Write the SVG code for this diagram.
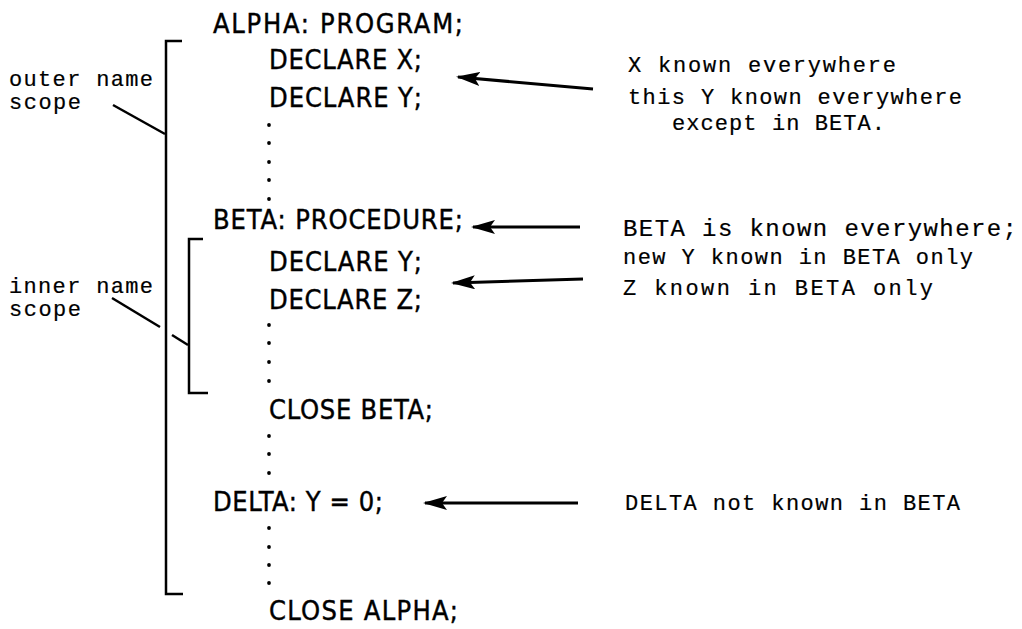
<svg xmlns="http://www.w3.org/2000/svg" width="1022" height="629" viewBox="0 0 1022 629">
<style>
.code{font-family:"Liberation Sans Narrow","DejaVu Sans Condensed","Liberation Sans",sans-serif;font-size:27px;fill:#000;stroke:#000;stroke-width:0.4;}
.note{font-family:"Liberation Mono","DejaVu Sans Mono",monospace;font-size:22px;fill:#000;stroke:#000;stroke-width:0.2;}
.big{font-size:24px;}
.ln{fill:none;stroke:#000;stroke-width:2.5;}
.arr{fill:none;stroke:#000;stroke-width:3;marker-end:url(#ah);}
.dot{fill:#000;}
</style>
<defs>
<marker id="ah" viewBox="0 0 24 14" refX="22" refY="7" markerWidth="24" markerHeight="14" markerUnits="userSpaceOnUse" orient="auto">
<path d="M0,0 L24,7 L0,14 L5,7 Z" fill="#000"/>
</marker>
</defs>
<rect width="1022" height="629" fill="#fff"/>

<g id="code">
<text class="code" x="213" y="33" textLength="250" lengthAdjust="spacing">ALPHA: PROGRAM;</text>
<text class="code" x="269" y="69" textLength="153" lengthAdjust="spacing">DECLARE X;</text>
<text class="code" x="269" y="107" textLength="153" lengthAdjust="spacing">DECLARE Y;</text>
<text class="code" x="213" y="229" textLength="250" lengthAdjust="spacing">BETA: PROCEDURE;</text>
<text class="code" x="269" y="271" textLength="153" lengthAdjust="spacing">DECLARE Y;</text>
<text class="code" x="269" y="309" textLength="153" lengthAdjust="spacing">DECLARE Z;</text>
<text class="code" x="269" y="419" textLength="164" lengthAdjust="spacing">CLOSE BETA;</text>
<text class="code" x="213" y="511" textLength="170" lengthAdjust="spacing">DELTA: Y = 0;</text>
<text class="code" x="269" y="620" textLength="189" lengthAdjust="spacing">CLOSE ALPHA;</text>
</g>

<g id="dots">
<circle class="dot" cx="269" cy="125" r="1.9"/>
<circle class="dot" cx="269" cy="143" r="1.9"/>
<circle class="dot" cx="269" cy="162" r="1.9"/>
<circle class="dot" cx="269" cy="180" r="1.9"/>
<circle class="dot" cx="269" cy="199" r="1.9"/>
<circle class="dot" cx="269" cy="325" r="1.9"/>
<circle class="dot" cx="269" cy="343" r="1.9"/>
<circle class="dot" cx="269" cy="362" r="1.9"/>
<circle class="dot" cx="269" cy="381" r="1.9"/>
<circle class="dot" cx="269" cy="436" r="1.9"/>
<circle class="dot" cx="269" cy="454" r="1.9"/>
<circle class="dot" cx="269" cy="473" r="1.9"/>
<circle class="dot" cx="269" cy="528" r="1.9"/>
<circle class="dot" cx="269" cy="547" r="1.9"/>
<circle class="dot" cx="269" cy="565" r="1.9"/>
<circle class="dot" cx="269" cy="583" r="1.9"/>
</g>

<g id="outer-scope">
<path class="ln" d="M182,41 H166 V594 H183"/>
<text class="note" x="9" y="86" textLength="144" lengthAdjust="spacing">outer name</text>
<text class="note" x="9" y="109" textLength="72" lengthAdjust="spacing">scope</text>
</g>

<g id="inner-scope">
<path class="ln" d="M203,239 H189 V393 H208"/>
<text class="note" x="9" y="293" textLength="144" lengthAdjust="spacing">inner name</text>
<text class="note" x="9" y="316" textLength="72" lengthAdjust="spacing">scope</text>
</g>

<g id="notes">
<text class="note" x="628" y="72" textLength="268" lengthAdjust="spacing">X known everywhere</text>
<text class="note" x="628" y="104" textLength="334" lengthAdjust="spacing">this Y known everywhere</text>
<text class="note" x="672" y="130" textLength="213" lengthAdjust="spacing">except in BETA.</text>
<text class="note big" x="623" y="236" textLength="394" lengthAdjust="spacing">BETA is known everywhere;</text>
<text class="note" x="623" y="264" textLength="350" lengthAdjust="spacing">new Y known in BETA only</text>
<text class="note" x="623" y="295" textLength="310" lengthAdjust="spacing">Z known in BETA only</text>
<text class="note" x="625" y="510" textLength="335" lengthAdjust="spacing">DELTA not known in BETA</text>
</g>

<g id="connectors">
<path class="ln" d="M113,105 L165,134"/>
<path class="ln" d="M112,298 L160,327"/>
<path class="ln" d="M172,335 L188,345"/>
<path class="arr" d="M593,89 L458,77"/>
<path class="arr" d="M580,227 L473,227"/>
<path class="arr" d="M583,279 L453,283"/>
<path class="arr" d="M578,503 L425,503"/>
</g>
</svg>
